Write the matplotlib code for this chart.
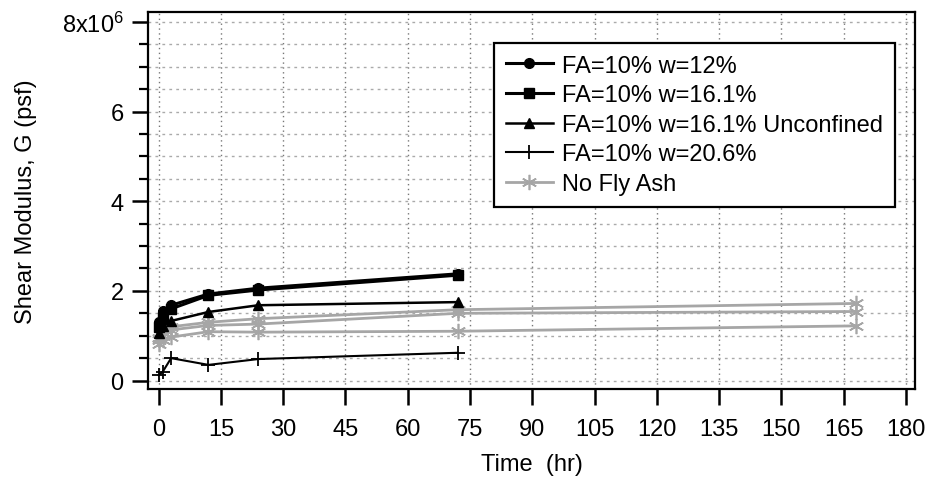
import numpy as np
import matplotlib
matplotlib.use("Agg")
import matplotlib.pyplot as plt
from matplotlib.ticker import MultipleLocator, FuncFormatter

plt.rcParams['font.family'] = ['Liberation Sans', 'DejaVu Sans']
plt.rcParams['mathtext.default'] = 'regular'

# time (hr) and shear modulus (psf)
t_fa = [0, 1, 3, 12, 24, 72]
g_w12 = [1.30e6, 1.56e6, 1.68e6, 1.93e6, 2.06e6, 2.38e6]
g_w161 = [1.20e6, 1.42e6, 1.60e6, 1.90e6, 2.02e6, 2.35e6]
g_w161_unconf = [1.05e6, 1.22e6, 1.33e6, 1.53e6, 1.68e6, 1.75e6]
g_w206 = [0.12e6, 0.20e6, 0.50e6, 0.35e6, 0.48e6, 0.62e6]

t_nfa = [0, 1, 3, 12, 24, 72, 168]
g_nfa_1 = [0.95e6, 1.05e6, 1.20e6, 1.30e6, 1.38e6, 1.58e6, 1.72e6]
g_nfa_2 = [0.90e6, 1.00e6, 1.13e6, 1.23e6, 1.26e6, 1.50e6, 1.54e6]
g_nfa_3 = [0.82e6, 0.90e6, 0.97e6, 1.09e6, 1.08e6, 1.10e6, 1.22e6]

fig = plt.figure(figsize=(9.3, 4.81), dpi=100)
ax = fig.add_axes([0.159, 0.189, 0.825, 0.784])

gray = '#a6a6a6'
star = (6, 2, 0)
ax.plot(t_nfa, g_nfa_1, color=gray, lw=2, marker=star, ms=11, mew=1.2, label='No Fly Ash')
ax.plot(t_nfa, g_nfa_2, color=gray, lw=2, marker=star, ms=11, mew=1.2)
ax.plot(t_nfa, g_nfa_3, color=gray, lw=2, marker=star, ms=11, mew=1.2)

ax.plot(t_fa, g_w12, color='black', lw=2.2, marker='o', ms=7, label='FA=10% w=12%')
ax.plot(t_fa, g_w161, color='black', lw=2.2, marker='s', ms=7, label='FA=10% w=16.1%')
ax.plot(t_fa, g_w161_unconf, color='black', lw=1.8, marker='^', ms=7,
        label='FA=10% w=16.1% Unconfined')
ax.plot(t_fa, g_w206, color='black', lw=1.5, marker='+', ms=10, mew=1.3,
        label='FA=10% w=20.6%')

ax.set_xlim(-2.6, 182.2)
ax.set_ylim(-0.19e6, 8.22e6)
ax.xaxis.set_major_locator(MultipleLocator(15))
ax.yaxis.set_major_locator(MultipleLocator(2e6))
ax.yaxis.set_minor_locator(MultipleLocator(0.5e6))


def yfmt(v, pos):
    if abs(v - 8e6) < 1:
        return '8x10$^{6}$'
    return f"{v / 1e6:g}"


ax.yaxis.set_major_formatter(FuncFormatter(yfmt))

ax.grid(True, which='major', axis='x', color='#777777', ls=(0, (1, 2.5)), lw=1)
ax.grid(True, which='both', axis='y', color='#aaaaaa', ls=(0, (2, 3)), lw=1)

for s in ax.spines.values():
    s.set_linewidth(1.6)
ax.tick_params(which='major', direction='out', length=11.5, width=1.8, labelsize=17)
ax.tick_params(which='minor', direction='out', length=6.5, width=1.6)
ax.tick_params(axis='x', which='major', pad=9.5)
ax.tick_params(axis='y', which='major', pad=6)

ax.set_xlabel('Time  (hr)', fontsize=17, labelpad=9)
ax.set_ylabel('Shear Modulus, G (psf)', fontsize=17, labelpad=18)

handles, labels = ax.get_legend_handles_labels()
order = [1, 2, 3, 4, 0]
leg = ax.legend([handles[i] for i in order], [labels[i] for i in order],
                loc='upper right', bbox_to_anchor=(0.974, 0.918), borderaxespad=0,
                fontsize=17, fancybox=False, framealpha=1, edgecolor='black',
                handlelength=2.0, labelspacing=0.32, borderpad=0.5, handletextpad=0.4)
leg.get_frame().set_linewidth(1.6)

fig.savefig('out.png', dpi=100)
